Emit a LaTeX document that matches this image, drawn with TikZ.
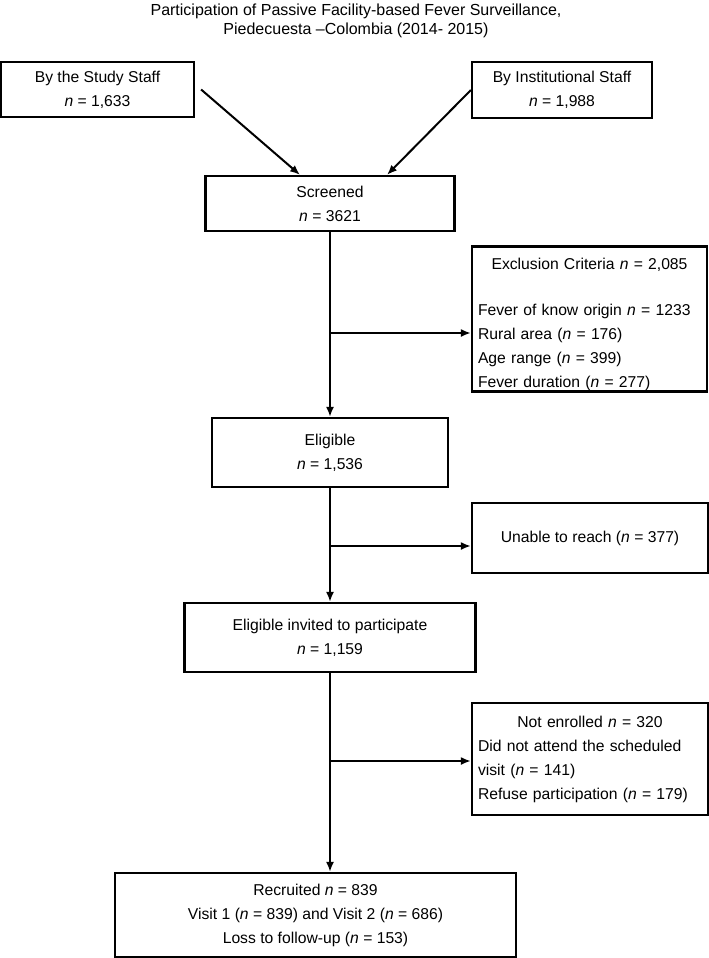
\documentclass[tikz,border=0pt]{standalone}
\usepackage{fontspec}
\setmainfont{Liberation Sans}
\usetikzlibrary{arrows.meta}
\newcommand{\nval}[1]{\textit{n} = #1}
\tikzset{
	box/.style n args={2}{draw=black, line width=2.2pt, minimum width=#1, minimum height=#2, inner sep=0pt, align=center},
	listbox/.style n args={3}{box={#1}{#2}, text width=#3, align=left},
	flow/.style={->, line width=2pt}
}

\begin{document}
\begin{tikzpicture}[x=1pt, y=-1pt, font=\fontsize{15.7}{24}\selectfont, >={Latex[length=10pt, width=8pt]}]

	\useasboundingbox (0,0) rectangle (709,958);

	\node[align=center, font=\fontsize{16}{19.5}\selectfont] (title) at (356,21) {Participation of Passive Facility-based Fever Surveillance,\\Piedecuesta --Colombia (2014- 2015)};

	% sources
	\node[box={193}{55}] (study) at (97.5,89.5) {By the Study Staff\\\nval{1,633}};
	\node[box={180}{56}] (inst) at (562,90) {By Institutional Staff\\\nval{1,988}};

	% main flow
	\node[box={249}{55}] (screened) at (330,203.5) {Screened\\\nval{3621}};
	\node[box={236}{69}] (eligible) at (330,452.5) {Eligible\\\nval{1,536}};
	\node[box={291}{69}] (invited) at (330,637.5) {Eligible invited to participate\\\nval{1,159}};
	\node[box={401}{84}] (recruited) at (315.5,915) {Recruited \nval{839}\\Visit 1 (\nval{839}) and Visit 2 (\nval{686})\\Loss to follow-up (\nval{153})};

	% losses
	\node[listbox={235}{145}{223}] (excl) at (589.5,319) {\rule{0pt}{22pt}\makebox[223pt]{Exclusion Criteria \nval{2,085}}\\[22pt]Fever of know origin \nval{1233}\\Rural area (\nval{176})\\Age range (\nval{399})\\Fever duration (\nval{277})};
	\node[box={236}{70}] (unable) at (590,538) {Unable to reach (\nval{377})};
	\node[listbox={236}{112}{224}] (notenr) at (590,759) {\makebox[224pt]{Not enrolled \nval{320}}\\Did not attend the scheduled\\visit (\nval{141})\\Refuse participation (\nval{179})};

	\draw[flow] ([xshift=6pt]study.east) -- ([xshift=-30pt]screened.north);
	\draw[flow] (inst.west) -- ([xshift=57pt]screened.north);

	\draw[flow] (screened) -- (eligible);
	\draw[flow] (eligible) -- (invited);
	\draw[flow] (invited.south) -- (invited.south |- recruited.north);

	% branches
	\coordinate (b1) at (330,333);
	\coordinate (b2) at (330,546);
	\coordinate (b3) at (330,761);
	\draw[flow] (b1) -- (b1 -| excl.west);
	\draw[flow] (b2) -- (b2 -| unable.west);
	\draw[flow] (b3) -- (b3 -| notenr.west);

\end{tikzpicture}
\end{document}
